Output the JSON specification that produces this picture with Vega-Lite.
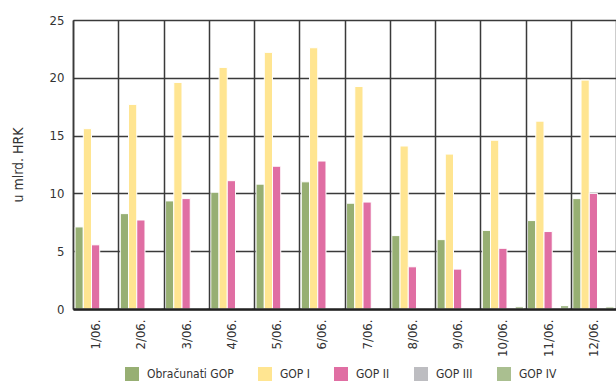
{
  "$schema": "https://vega.github.io/schema/vega-lite/v6.json",
  "width": 543,
  "height": 289,
  "autosize": {"type": "none"},
  "padding": {"left": 73, "top": 20, "right": 0, "bottom": 74},
  "background": "white",
  "config": {
    "font": "DejaVu Sans Condensed",
    "view": {"stroke": null}
  },
  "data": {
    "values": [
      {"mjesec": "1/06.", "serija": "Obračunati GOP", "vrijednost": 7.1},
      {"mjesec": "1/06.", "serija": "GOP I", "vrijednost": 15.6},
      {"mjesec": "1/06.", "serija": "GOP II", "vrijednost": 5.55},
      {"mjesec": "1/06.", "serija": "GOP III", "vrijednost": 0},
      {"mjesec": "1/06.", "serija": "GOP IV", "vrijednost": 0},
      {"mjesec": "2/06.", "serija": "Obračunati GOP", "vrijednost": 8.25},
      {"mjesec": "2/06.", "serija": "GOP I", "vrijednost": 17.7},
      {"mjesec": "2/06.", "serija": "GOP II", "vrijednost": 7.7},
      {"mjesec": "2/06.", "serija": "GOP III", "vrijednost": 0},
      {"mjesec": "2/06.", "serija": "GOP IV", "vrijednost": 0},
      {"mjesec": "3/06.", "serija": "Obračunati GOP", "vrijednost": 9.35},
      {"mjesec": "3/06.", "serija": "GOP I", "vrijednost": 19.6},
      {"mjesec": "3/06.", "serija": "GOP II", "vrijednost": 9.55},
      {"mjesec": "3/06.", "serija": "GOP III", "vrijednost": 0},
      {"mjesec": "3/06.", "serija": "GOP IV", "vrijednost": 0},
      {"mjesec": "4/06.", "serija": "Obračunati GOP", "vrijednost": 10.1},
      {"mjesec": "4/06.", "serija": "GOP I", "vrijednost": 20.9},
      {"mjesec": "4/06.", "serija": "GOP II", "vrijednost": 11.1},
      {"mjesec": "4/06.", "serija": "GOP III", "vrijednost": 0},
      {"mjesec": "4/06.", "serija": "GOP IV", "vrijednost": 0},
      {"mjesec": "5/06.", "serija": "Obračunati GOP", "vrijednost": 10.8},
      {"mjesec": "5/06.", "serija": "GOP I", "vrijednost": 22.2},
      {"mjesec": "5/06.", "serija": "GOP II", "vrijednost": 12.35},
      {"mjesec": "5/06.", "serija": "GOP III", "vrijednost": 0},
      {"mjesec": "5/06.", "serija": "GOP IV", "vrijednost": 0},
      {"mjesec": "6/06.", "serija": "Obračunati GOP", "vrijednost": 11.0},
      {"mjesec": "6/06.", "serija": "GOP I", "vrijednost": 22.6},
      {"mjesec": "6/06.", "serija": "GOP II", "vrijednost": 12.8},
      {"mjesec": "6/06.", "serija": "GOP III", "vrijednost": 0},
      {"mjesec": "6/06.", "serija": "GOP IV", "vrijednost": 0},
      {"mjesec": "7/06.", "serija": "Obračunati GOP", "vrijednost": 9.15},
      {"mjesec": "7/06.", "serija": "GOP I", "vrijednost": 19.25},
      {"mjesec": "7/06.", "serija": "GOP II", "vrijednost": 9.25},
      {"mjesec": "7/06.", "serija": "GOP III", "vrijednost": 0},
      {"mjesec": "7/06.", "serija": "GOP IV", "vrijednost": 0},
      {"mjesec": "8/06.", "serija": "Obračunati GOP", "vrijednost": 6.35},
      {"mjesec": "8/06.", "serija": "GOP I", "vrijednost": 14.1},
      {"mjesec": "8/06.", "serija": "GOP II", "vrijednost": 3.65},
      {"mjesec": "8/06.", "serija": "GOP III", "vrijednost": 0},
      {"mjesec": "8/06.", "serija": "GOP IV", "vrijednost": 0},
      {"mjesec": "9/06.", "serija": "Obračunati GOP", "vrijednost": 6.0},
      {"mjesec": "9/06.", "serija": "GOP I", "vrijednost": 13.4},
      {"mjesec": "9/06.", "serija": "GOP II", "vrijednost": 3.45},
      {"mjesec": "9/06.", "serija": "GOP III", "vrijednost": 0},
      {"mjesec": "9/06.", "serija": "GOP IV", "vrijednost": 0},
      {"mjesec": "10/06.", "serija": "Obračunati GOP", "vrijednost": 6.8},
      {"mjesec": "10/06.", "serija": "GOP I", "vrijednost": 14.6},
      {"mjesec": "10/06.", "serija": "GOP II", "vrijednost": 5.25},
      {"mjesec": "10/06.", "serija": "GOP III", "vrijednost": 0},
      {"mjesec": "10/06.", "serija": "GOP IV", "vrijednost": 0.2},
      {"mjesec": "11/06.", "serija": "Obračunati GOP", "vrijednost": 7.65},
      {"mjesec": "11/06.", "serija": "GOP I", "vrijednost": 16.25},
      {"mjesec": "11/06.", "serija": "GOP II", "vrijednost": 6.7},
      {"mjesec": "11/06.", "serija": "GOP III", "vrijednost": 0},
      {"mjesec": "11/06.", "serija": "GOP IV", "vrijednost": 0.3},
      {"mjesec": "12/06.", "serija": "Obračunati GOP", "vrijednost": 9.55},
      {"mjesec": "12/06.", "serija": "GOP I", "vrijednost": 19.8},
      {"mjesec": "12/06.", "serija": "GOP II", "vrijednost": 10.0},
      {"mjesec": "12/06.", "serija": "GOP III", "vrijednost": 0},
      {"mjesec": "12/06.", "serija": "GOP IV", "vrijednost": 0.18}
    ]
  },
  "mark": {"type": "bar", "stroke": "white", "strokeWidth": 1},
  "encoding": {
    "x": {
      "field": "mjesec",
      "type": "nominal",
      "sort": null,
      "scale": {"paddingInner": 0, "paddingOuter": 0},
      "axis": {
        "title": null,
        "labelAngle": -90,
        "tickBand": "extent",
        "grid": true,
        "gridColor": "#3a3a3a",
        "gridWidth": 1.5,
        "ticks": false,
        "domainColor": "#222222",
        "domainWidth": 2.5,
        "labelPadding": 10,
        "labelFontSize": 13,
        "labelColor": "#333333",
        "labelFont": "DejaVu Sans Condensed",
        "zindex": 1
      }
    },
    "xOffset": {
      "field": "serija",
      "type": "nominal",
      "sort": ["Obračunati GOP", "GOP I", "GOP II", "GOP III", "GOP IV"],
      "scale": {"paddingInner": 0, "paddingOuter": 0.25}
    },
    "y": {
      "field": "vrijednost",
      "type": "quantitative",
      "scale": {"domain": [0, 25], "nice": false},
      "axis": {
        "title": "u mlrd. HRK",
        "titleFont": "DejaVu Sans Condensed",
        "titleFontSize": 14,
        "titleFontWeight": "normal",
        "titleColor": "#333333",
        "titlePadding": 24,
        "values": [0, 5, 10, 15, 20, 25],
        "grid": true,
        "gridColor": "#3a3a3a",
        "gridWidth": 1.5,
        "ticks": false,
        "domainColor": "#222222",
        "domainWidth": 1.5,
        "labelPadding": 9,
        "labelFontSize": 13,
        "labelColor": "#333333",
        "labelFont": "DejaVu Sans Condensed",
        "zindex": 0
      }
    },
    "color": {
      "field": "serija",
      "type": "nominal",
      "sort": ["Obračunati GOP", "GOP I", "GOP II", "GOP III", "GOP IV"],
      "scale": {
        "domain": ["Obračunati GOP", "GOP I", "GOP II", "GOP III", "GOP IV"],
        "range": ["#97AF73", "#FFE591", "#E06EA3", "#BDBDC1", "#AABF90"]
      },
      "legend": {
        "title": null,
        "orient": "none",
        "direction": "horizontal",
        "legendX": 52,
        "legendY": 347,
        "symbolType": "square",
        "symbolSize": 196,
        "symbolStrokeWidth": 0,
        "symbolOpacity": 1,
        "labelFont": "DejaVu Sans Condensed",
        "labelFontSize": 12,
        "labelColor": "#333333",
        "labelOffset": 8,
        "columnPadding": 24
      }
    }
  }
}
